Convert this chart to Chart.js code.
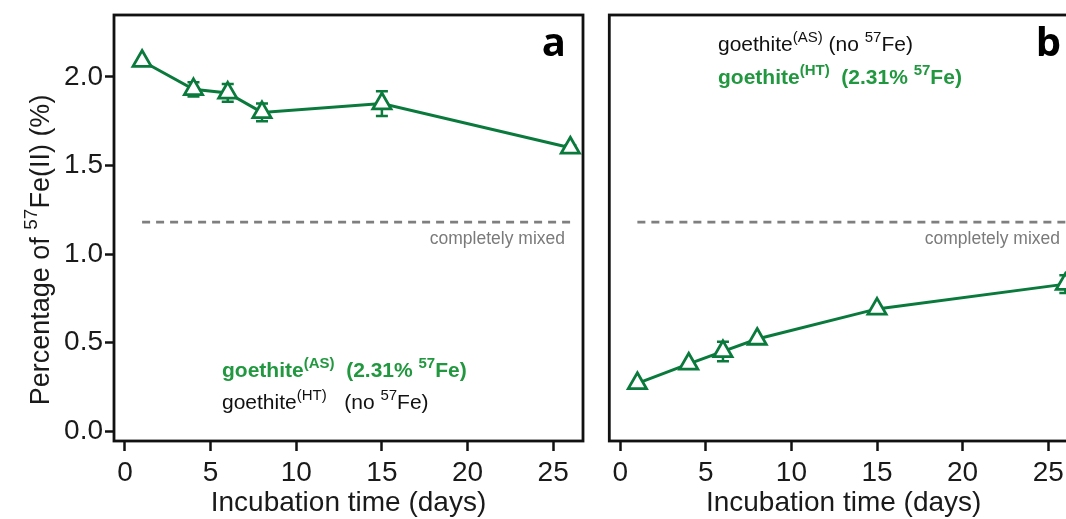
<!DOCTYPE html>
<html><head><meta charset="utf-8">
<script src="https://cdn.jsdelivr.net/npm/chart.js@4"></script>
<style>
html,body{margin:0;padding:0;overflow:hidden;background:#fff;width:1066px;height:519px;position:relative}
#wa{position:absolute;left:0;top:0;width:600px;height:519px}
#wb{position:absolute;left:596px;top:0;width:500px;height:519px}
</style></head><body>
<div id="wa"><canvas id="ca"></canvas></div>
<div id="wb"><canvas id="cb"></canvas></div>
<script>
// ---- data ----
const days = [1, 4, 6, 8, 15, 26];
const fe57AS = [2.09, 1.93, 1.91, 1.80, 1.85, 1.60];   // panel a
const errAS  = [0.0, 0.04, 0.05, 0.05, 0.07, 0.015];
const fe57HT = [0.27, 0.38, 0.45, 0.52, 0.69, 0.83];   // panel b
const errHT  = [0.0, 0.0, 0.055, 0.0, 0.0, 0.05];
const mixedDays = [1, 26];
const mixedLevel = [1.18, 1.18];
const xTicks = [0, 5, 10, 15, 20, 25];
const yTicks = [0.0, 0.5, 1.0, 1.5, 2.0];

const GREEN_LINE = '#0a7a3c';
const GREEN_TEXT = '#21983f';
const SANS = '"Liberation Sans", Arial, sans-serif';

function rich(ctx, x, y, parts, size, bold, color, align) {
  const f = (bold ? 'bold ' : '') + size + 'px ' + SANS;
  const sf = (bold ? 'bold ' : '') + Math.round(size * 0.7) + 'px ' + SANS;
  ctx.save();
  ctx.fillStyle = color; ctx.textBaseline = 'alphabetic'; ctx.textAlign = 'left';
  let w = 0;
  for (const [t, s] of parts) { ctx.font = s ? sf : f; w += ctx.measureText(t).width; }
  let cx = align === 'center' ? x - w / 2 : (align === 'right' ? x - w : x);
  for (const [t, s] of parts) {
    ctx.font = s ? sf : f;
    ctx.fillText(t, cx, s ? y - size * 0.45 : y);
    cx += ctx.measureText(t).width;
  }
  ctx.restore();
}

const decor = {
  id: 'decor',
  beforeDatasetsDraw(chart, args, o) {
    const ctx = chart.ctx, xs = chart.scales.x, ys = chart.scales.y;
    ctx.save();
    ctx.strokeStyle = GREEN_LINE; ctx.lineWidth = 2.5;
    o.vals.forEach((v, i) => {
      const e = o.errs[i]; if (!e) return;
      const px = xs.getPixelForValue(days[i]);
      const y1 = ys.getPixelForValue(v + e), y2 = ys.getPixelForValue(v - e);
      ctx.beginPath();
      ctx.moveTo(px, y1); ctx.lineTo(px, y2);
      ctx.moveTo(px - 6, y1); ctx.lineTo(px + 6, y1);
      ctx.moveTo(px - 6, y2); ctx.lineTo(px + 6, y2);
      ctx.stroke();
    });
    ctx.restore();
  },
  afterDraw(chart, args, o) {
    const ctx = chart.ctx, a = chart.chartArea;
    ctx.save();
    ctx.strokeStyle = '#111'; ctx.lineWidth = 2.8;
    ctx.strokeRect(a.left, a.top, a.right - a.left, a.bottom - a.top);
    ctx.restore();
    ctx.save();
    ctx.font = '28px ' + SANS; ctx.fillStyle = '#1a1a1a';
    ctx.textAlign = 'center'; ctx.textBaseline = 'middle';
    ctx.fillText('Incubation time (days)', (a.left + a.right) / 2, 503);
    ctx.restore();
    ctx.save();
    ctx.font = 'bold 40px "Open Sans", sans-serif'; ctx.fillStyle = '#000';
    ctx.textAlign = 'right'; ctx.textBaseline = 'alphabetic';
    ctx.fillText(o.label, a.right - 17, 56);
    ctx.restore();
    ctx.save();
    ctx.font = '17.5px ' + SANS; ctx.fillStyle = '#7a7a7a';
    ctx.textAlign = 'right'; ctx.textBaseline = 'alphabetic';
    ctx.fillText('completely mixed', o.mixedRight, 244);
    ctx.restore();
    o.notes.forEach(n => rich(ctx, n.x, n.y, n.parts, 21, n.bold, n.bold ? GREEN_TEXT : '#111', 'left'));
    if (o.yTitle) {
      ctx.save();
      ctx.translate(39, 250); ctx.rotate(-Math.PI / 2);
      rich(ctx, 0, 10, [['Percentage of ', false], ['57', true], ['Fe(II) (%)', false]], 27, false, '#1a1a1a', 'center');
      ctx.restore();
    }
  }
};

function makeChart(id, vals, errs, opt) {
  return new Chart(document.getElementById(id), {
    type: 'scatter',
    data: {
      datasets: [
        {
          data: mixedDays.map((d, i) => ({ x: d, y: mixedLevel[i] })),
          showLine: true, borderColor: '#7f7f7f', borderWidth: 2.8, borderDash: [8, 6],
          pointRadius: 0
        },
        {
          data: days.map((d, i) => ({ x: d, y: vals[i] })),
          showLine: true, borderColor: GREEN_LINE, borderWidth: 3,
          pointStyle: 'triangle', pointRadius: 10.5, pointBorderWidth: 2.8,
          pointBackgroundColor: '#fff', pointBorderColor: GREEN_LINE, clip: false
        }
      ]
    },
    options: {
      responsive: true, maintainAspectRatio: false, animation: false,
      devicePixelRatio: 1,
      layout: { padding: { left: opt.padLeft, right: opt.padRight, top: 15, bottom: 0 } },
      plugins: {
        legend: { display: false }, tooltip: { enabled: false },
        decor: { vals, errs, label: opt.label, notes: opt.notes, mixedRight: opt.mixedRight, yTitle: opt.yTitle }
      },
      scales: {
        x: {
          type: 'linear', min: -0.64, max: 26.74,
          afterBuildTicks: s => { s.ticks = xTicks.map(v => ({ value: v })); },
          afterFit: s => { s.height = 78; s.paddingLeft = 0; s.paddingRight = 0; },
          grid: { drawOnChartArea: false, tickLength: 10, tickWidth: 2.5, tickColor: '#111' },
          border: { display: false },
          ticks: { font: { size: 28, family: SANS }, color: '#1a1a1a', padding: 5 }
        },
        y: {
          type: 'linear', min: -0.056, max: 2.35, display: opt.yDisplay,
          afterBuildTicks: s => { s.ticks = yTicks.map(v => ({ value: v })); },
          afterFit: s => { s.width = opt.yDisplay ? 114 : 0; s.paddingTop = 0; s.paddingBottom = 0; },
          grid: { drawOnChartArea: false, tickLength: 9, tickWidth: 2.5, tickColor: '#111' },
          border: { display: false },
          ticks: { font: { size: 28, family: SANS }, color: '#1a1a1a', padding: 2,
                   callback: v => Number(v).toFixed(1) }
        }
      }
    },
    plugins: [decor]
  });
}

makeChart('ca', fe57AS, errAS, {
  label: 'a', padLeft: 0, padRight: 17, yDisplay: true, yTitle: true, mixedRight: 565,
  notes: [
    { x: 222, y: 377, bold: true, parts: [['goethite', false], ['(AS)', true], ['  (2.31% ', false], ['57', true], ['Fe)', false]] },
    { x: 222, y: 409, bold: false, parts: [['goethite', false], ['(HT)', true], ['   (no ', false], ['57', true], ['Fe)', false]] }
  ]
});
makeChart('cb', fe57HT, errHT, {
  label: 'b', padLeft: 12, padRight: 18, yDisplay: false, yTitle: false, mixedRight: 464,
  notes: [
    { x: 122, y: 51, bold: false, parts: [['goethite', false], ['(AS)', true], [' (no ', false], ['57', true], ['Fe)', false]] },
    { x: 122, y: 84, bold: true, parts: [['goethite', false], ['(HT)', true], ['  (2.31% ', false], ['57', true], ['Fe)', false]] }
  ]
});
</script>
</body></html>
